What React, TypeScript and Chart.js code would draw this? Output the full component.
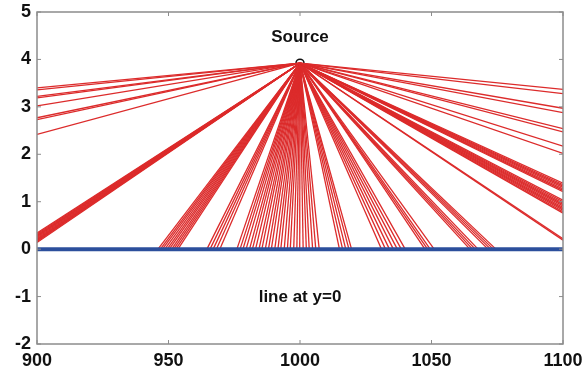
import React, { useEffect, useRef } from "react";
import { Chart, registerables } from "chart.js";

Chart.register(...registerables);

// Axis ranges and tick labels
const xTicks = [900, 950, 1000, 1050, 1100];
const yTicks = [-2, -1, 0, 1, 2, 3, 4, 5];

// Source location
const sourceX = 1000;
const sourceY = 3.92;

// Rays leaving the left edge (x = 900): y where they exit
const leftEdgeY = [3.4, 3.36, 3.22, 3.19, 3.02, 2.77, 2.73, 2.42, 0.34, 0.32, 0.3, 0.28, 0.26, 0.24, 0.22, 0.2, 0.18, 0.16, 0.14];
// Rays leaving the right edge (x = 1100): y where they exit
const rightEdgeY = [3.37, 3.28, 2.97, 2.88, 2.54, 2.47, 2.17, 2.02, 1.39, 1.36, 1.33, 1.3, 1.27, 1.24, 1.21, 1.03, 1.0, 0.97, 0.94, 0.91, 0.88, 0.85, 0.82, 0.79, 0.76, 0.22, 0.19];
// Rays hitting the line y = 0: x where they hit
const groundHitX = [
  946, 946.9, 947.7, 948.6, 949.5, 950.3, 951.2, 952, 952.8, 953.6,
  964.6, 965.8, 967, 968.2, 969.5,
  976, 977.2, 978.3, 979.5, 980.8, 981.9, 983.1, 984.4, 985.5, 986.8, 988, 989.1, 990.4, 991.6, 992.7,
  994, 995.2, 996.3, 997.6, 998.8, 999.9, 1001.2, 1002.4, 1003.5, 1004.8, 1006, 1007.3,
  1015, 1016.2, 1017.4, 1018.6, 1019.6,
  1031, 1032.5, 1034, 1035.5, 1037, 1038.5, 1040,
  1047.5, 1048.5, 1049.5, 1051,
  1064.6, 1065.6, 1066.6, 1067.7,
  1071.5, 1072.5, 1073.5, 1074.5,
];
// Horizontal line at y = 0
const baseLineX = [900, 1100];
const baseLineY = [0, 0];

// Annotations
const labels = [
  { text: "Source", x: 1000, y: 4.47 },
  { text: "line at y=0", x: 1000, y: -1.01 },
];

const FONT = "'Liberation Sans', Arial, sans-serif";
const RED = "#dc2b2b";

export default function App() {
  const ref = useRef<HTMLCanvasElement>(null);

  useEffect(() => {
    document.body.style.margin = "0";
    const canvas = ref.current;
    if (!canvas) return;

    const rays: any[] = [];
    const addRay = (ex: number, ey: number) =>
      rays.push({
        type: "scatter",
        data: [
          { x: sourceX, y: sourceY },
          { x: ex, y: ey },
        ],
        showLine: true,
        borderColor: RED,
        borderWidth: 1.3,
        pointRadius: 0,
        fill: false,
      });
    leftEdgeY.forEach((y) => addRay(900, y));
    rightEdgeY.forEach((y) => addRay(1100, y));
    groundHitX.forEach((x) => addRay(x, 0));

    const datasets: any[] = [
      {
        type: "scatter",
        data: baseLineX.map((x, i) => ({ x, y: baseLineY[i] })),
        showLine: true,
        borderColor: "#2c4f9c",
        borderWidth: 4,
        pointRadius: 0,
        clip: false,
      },
      ...rays,
      {
        type: "scatter",
        data: [{ x: sourceX, y: sourceY }],
        pointRadius: 4,
        pointBorderColor: "#111",
        pointBackgroundColor: "rgba(0,0,0,0)",
        pointBorderWidth: 1.5,
      },
    ];

    const framePlugin = {
      id: "frame",
      afterDatasetsDraw(chart: any) {
        const { ctx, chartArea: a, scales } = chart;
        ctx.save();
        ctx.strokeStyle = "#8c8c8c";
        ctx.lineWidth = 1.5;
        ctx.strokeRect(a.left, a.top, a.right - a.left, a.bottom - a.top);
        ctx.lineWidth = 1;
        const L = 4;
        ctx.beginPath();
        xTicks.forEach((v) => {
          const px = scales.x.getPixelForValue(v);
          ctx.moveTo(px, a.bottom);
          ctx.lineTo(px, a.bottom - L);
          ctx.moveTo(px, a.top);
          ctx.lineTo(px, a.top + L);
        });
        yTicks.forEach((v) => {
          const py = scales.y.getPixelForValue(v);
          ctx.moveTo(a.left, py);
          ctx.lineTo(a.left + L, py);
          ctx.moveTo(a.right, py);
          ctx.lineTo(a.right - L, py);
        });
        ctx.stroke();
        ctx.fillStyle = "#111";
        ctx.font = `bold 17px ${FONT}`;
        ctx.textAlign = "center";
        ctx.textBaseline = "middle";
        labels.forEach((l) => {
          ctx.fillText(l.text, scales.x.getPixelForValue(l.x), scales.y.getPixelForValue(l.y));
        });
        ctx.restore();
      },
    };

    const chart = new Chart(canvas, {
      type: "scatter",
      data: { datasets },
      options: {
        responsive: false,
        animation: false,
        devicePixelRatio: 1,
        layout: { padding: { top: 12, right: 25, left: 0, bottom: 0 } },
        plugins: { legend: { display: false }, tooltip: { enabled: false } },
        scales: {
          x: {
            type: "linear",
            min: 900,
            max: 1100,
            afterBuildTicks: (s: any) => {
              s.ticks = xTicks.map((v) => ({ value: v }));
            },
            afterFit: (s: any) => {
              s.height = 34;
              s.paddingLeft = 0;
              s.paddingRight = 0;
            },
            grid: { display: false, drawTicks: false },
            border: { display: false },
            ticks: {
              padding: 6,
              color: "#111",
              font: { family: FONT, size: 18, weight: "bold" },
              maxRotation: 0,
              callback: (v: any) => String(v),
            },
          },
          y: {
            type: "linear",
            min: -2,
            max: 5,
            afterBuildTicks: (s: any) => {
              s.ticks = yTicks.map((v) => ({ value: v }));
            },
            afterFit: (s: any) => {
              s.width = 37;
              s.paddingTop = 0;
              s.paddingBottom = 0;
            },
            grid: { display: false, drawTicks: false },
            border: { display: false },
            ticks: {
              padding: 6,
              color: "#111",
              font: { family: FONT, size: 18, weight: "bold" },
              callback: (v: any) => String(v),
            },
          },
        },
      },
      plugins: [framePlugin],
    });
    return () => chart.destroy();
  }, []);

  return (
    <div style={{ width: 588, height: 378 }}>
      <canvas ref={ref} width={588} height={378} />
    </div>
  );
}
